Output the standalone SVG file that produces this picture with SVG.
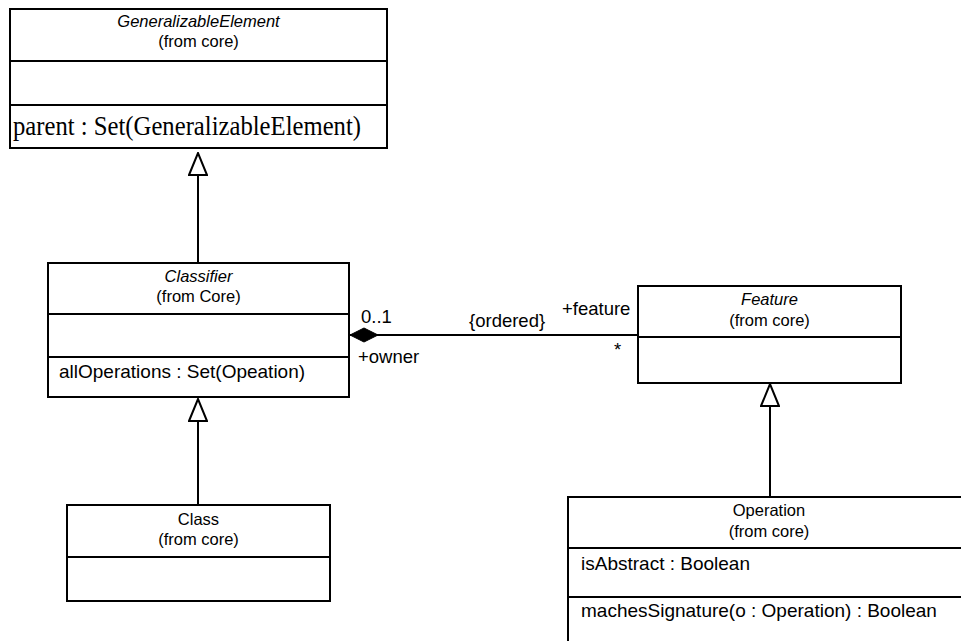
<svg xmlns="http://www.w3.org/2000/svg" width="961" height="641" viewBox="0 0 961 641">
  <style>
    .box { fill: #ffffff; stroke: #000000; stroke-width: 2; }
    .sep { stroke: #000000; stroke-width: 2; fill: none; }
    .title { font-family: "Liberation Sans", Arial, sans-serif; font-size: 16.5px; fill: #000; text-anchor: middle; }
    .abstract { font-style: italic; }
    .attr { font-family: "Liberation Sans", Arial, sans-serif; font-size: 19px; fill: #000; }
    .attr-serif { font-family: "Liberation Serif", "Times New Roman", serif; font-size: 28px; fill: #000; }
    .label { font-family: "Liberation Sans", Arial, sans-serif; font-size: 18.5px; fill: #000; }
    .edge { stroke: #000000; stroke-width: 2; fill: none; }
  </style>
  <defs>
    <!-- hollow triangle for generalization -->
    <marker id="gen" viewBox="0 0 24 20" refX="23" refY="10" markerWidth="24" markerHeight="20" markerUnits="userSpaceOnUse" orient="auto">
      <path d="M1,1 L23,10 L1,19 Z" fill="#ffffff" stroke="#000000" stroke-width="2"/>
    </marker>
    <!-- filled diamond for composition -->
    <marker id="comp" viewBox="0 0 30 16" refX="1" refY="8" markerWidth="30" markerHeight="16" markerUnits="userSpaceOnUse" orient="auto">
      <path d="M1,8 L15,1 L29,8 L15,15 Z" fill="#000000" stroke="#000000" stroke-width="1"/>
    </marker>
  </defs>

  <rect width="961" height="641" fill="#ffffff"/>

  <!-- connectors -->
  <g id="connectors">
    <line class="edge" x1="198" y1="263" x2="198" y2="153" marker-end="url(#gen)"/>
    <line class="edge" x1="198" y1="505" x2="198" y2="399" marker-end="url(#gen)"/>
    <line class="edge" x1="770" y1="497" x2="770" y2="384" marker-end="url(#gen)"/>
    <line class="edge" x1="350" y1="335" x2="638" y2="335" marker-start="url(#comp)"/>
    <text class="label" x="361" y="323">0..1</text>
    <text class="label" x="358" y="363">+owner</text>
    <text class="label" x="469" y="327">{ordered}</text>
    <text class="label" x="562" y="315">+feature</text>
    <text class="label" x="614" y="356">*</text>
  </g>

  <g id="GeneralizableElement">
    <rect class="box" x="10" y="9" width="377" height="139"/>
    <line class="sep" x1="10" y1="61" x2="387" y2="61"/>
    <line class="sep" x1="10" y1="105" x2="387" y2="105"/>
    <text class="title abstract" x="198.5" y="27">GeneralizableElement</text>
    <text class="title" x="198.5" y="47">(from core)</text>
    <text class="attr-serif" x="13" y="135" textLength="348" lengthAdjust="spacingAndGlyphs">parent : Set(GeneralizableElement)</text>
  </g>

  <g id="Classifier">
    <rect class="box" x="48" y="263" width="301" height="134"/>
    <line class="sep" x1="48" y1="314" x2="349" y2="314"/>
    <line class="sep" x1="48" y1="357" x2="349" y2="357"/>
    <text class="title abstract" x="198.5" y="282">Classifier</text>
    <text class="title" x="198.5" y="302">(from Core)</text>
    <text class="attr" x="59" y="378">allOperations : Set(Opeation)</text>
  </g>

  <g id="Class">
    <rect class="box" x="67" y="505" width="263" height="96"/>
    <line class="sep" x1="67" y1="557" x2="330" y2="557"/>
    <text class="title" x="198.5" y="525">Class</text>
    <text class="title" x="198.5" y="545">(from core)</text>
  </g>

  <g id="Feature">
    <rect class="box" x="638" y="286" width="263" height="97"/>
    <line class="sep" x1="638" y1="337" x2="901" y2="337"/>
    <text class="title abstract" x="769.5" y="305">Feature</text>
    <text class="title" x="769.5" y="326">(from core)</text>
  </g>

  <g id="Operation">
    <rect class="box" x="568" y="497" width="402" height="160"/>
    <line class="sep" x1="568" y1="548" x2="970" y2="548"/>
    <line class="sep" x1="568" y1="597" x2="970" y2="597"/>
    <text class="title" x="769" y="516">Operation</text>
    <text class="title" x="769" y="537">(from core)</text>
    <text class="attr" x="581" y="570">isAbstract : Boolean</text>
    <text class="attr" x="581" y="617">machesSignature(o : Operation) : Boolean</text>
  </g>
</svg>
